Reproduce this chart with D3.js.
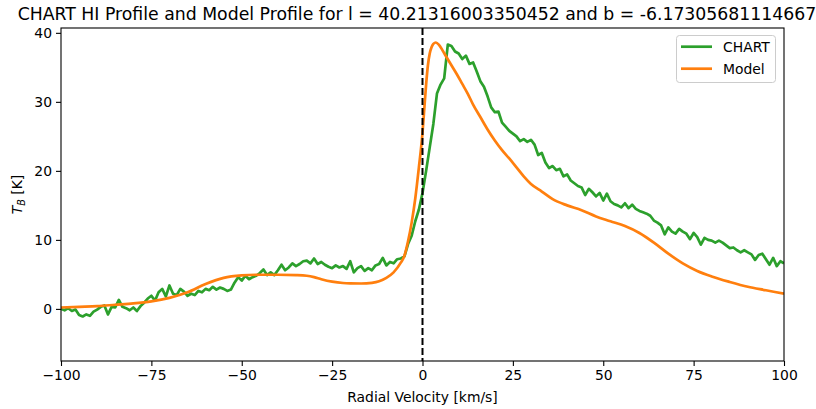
<!DOCTYPE html>
<html>
<head>
<meta charset="utf-8">
<script src="https://cdn.jsdelivr.net/npm/d3@7.9.0/dist/d3.min.js"></script>
<style>
  body { margin: 0; background: #fff; }
  svg { display: block; font-family: "DejaVu Sans", sans-serif; }
</style>
</head>
<body>
<svg id="chart" width="816" height="409"></svg>
<script>
// CHART observed profile, 1 km/s steps from -100 to 100
const chartVel = d3.range(-100, 101, 1);
const chartTb = [
  0.0, -0.2, 0.1, -0.3, -0.1, -0.9, -1.1, -0.8, -1.0, -0.4,
  -0.1, 0.3, 0.5, -0.8, 0.3, 0.2, 1.3, 0.3, 0.1, -0.2,
  0.2, -0.3, 0.4, 0.9, 1.5, 1.9, 1.2, 2.4, 2.9, 1.8,
  3.4, 2.2, 2.0, 2.9, 2.5, 1.9, 2.2, 2.0, 2.6, 2.4,
  2.9, 2.7, 3.2, 2.8, 3.1, 2.9, 2.6, 2.8, 3.8, 4.6,
  4.1, 4.8, 4.3, 4.6, 4.8, 5.2, 5.7, 4.9, 5.3, 4.9,
  5.6, 6.4, 5.6, 6.0, 6.6, 6.2, 6.5, 6.9, 7.0, 6.6,
  7.3, 6.5, 6.8, 6.4, 6.1, 5.9, 6.3, 6.0, 6.2, 5.8,
  6.9, 5.3, 5.9, 6.2, 5.5, 5.9, 5.6, 6.3, 6.5, 7.4,
  6.3, 6.8, 6.6, 7.2, 7.3, 7.6, 9.4, 10.6, 12.7, 14.4,
  16.8, 20.0, 23.4, 26.8, 31.2, 32.5, 33.4, 38.3, 38.1, 37.3,
  37.0, 36.2, 36.7, 35.5, 35.7, 34.4, 33.0, 32.2, 30.8, 29.2,
  28.5, 28.6, 27.0, 26.4, 25.8, 25.4, 25.0, 24.3, 24.6, 24.2,
  24.5, 23.8, 22.3, 22.6, 21.2, 20.4, 20.7, 20.1, 20.3, 19.2,
  19.5, 18.6, 18.2, 17.8, 17.6, 16.5, 17.4, 16.9, 16.3, 16.8,
  15.7, 16.7, 15.6, 15.2, 15.0, 14.7, 15.3, 14.6, 15.1, 14.5,
  14.2, 14.0, 13.8, 13.5, 12.8, 12.5, 12.1, 10.8, 11.8, 11.2,
  10.9, 11.6, 11.2, 10.9, 10.1, 11.0, 10.4, 9.3, 10.3, 10.0,
  9.9, 9.6, 9.9, 9.6, 9.2, 8.8, 8.9, 8.5, 8.2, 8.5,
  8.2, 7.9, 7.1, 7.8, 8.0, 7.2, 6.4, 7.4, 6.2, 6.9,
  6.6
];

// Model profile (smooth)
const modelVel = [-100, -95, -90, -85, -80, -75, -70, -65, -60, -55, -50, -45, -40, -35, -32, -30, -28, -25, -22, -20, -17, -14, -12, -10, -8, -6, -5, -4, -3, -2, -1, 0, 0.5, 1, 1.5, 2, 2.5, 3, 3.7, 4.5, 5.5, 6.5, 8, 9.5, 11, 12.5, 14, 16, 18, 20, 22, 24, 26, 28, 30, 33, 36, 40, 44, 48, 52, 56, 60, 64, 68, 72, 76, 80, 85, 90, 95, 100];
const modelTb = [0.2, 0.3, 0.4, 0.6, 0.8, 1.1, 1.6, 2.4, 3.6, 4.5, 4.85, 4.95, 4.95, 4.9, 4.8, 4.6, 4.3, 3.95, 3.75, 3.7, 3.68, 3.78, 4.0, 4.5, 5.3, 6.7, 7.7, 9.8, 12.5, 16.0, 20.5, 25.5, 29.0, 32.5, 35.3, 37.0, 37.9, 38.4, 38.6, 38.3, 37.5, 36.6, 35.3, 34.0, 32.6, 31.2, 29.6, 27.8, 26.0, 24.4, 23.0, 21.8, 20.5, 19.2, 18.1, 17.0, 15.9, 15.0, 14.3, 13.4, 12.7, 12.0, 11.0, 9.6, 8.0, 6.6, 5.5, 4.7, 3.9, 3.2, 2.7, 2.2];

const xTicks = [-100, -75, -50, -25, 0, 25, 50, 75, 100];
const yTicks = [0, 10, 20, 30, 40];
const seriesNames = ["CHART", "Model"];
const seriesColors = ["#2ca02c", "#ff7f0e"];

const margin = { left: 61, right: 32, top: 28, bottom: 48 };
const width = 816, height = 409;

const svg = d3.select("#chart");

const x = d3.scaleLinear().domain([-100, 100]).range([margin.left, width - margin.right]);
const y = d3.scaleLinear().domain([-7.55, 40.7]).range([height - margin.bottom, margin.top]);

// clip for lines
svg.append("defs").append("clipPath").attr("id", "clip")
  .append("rect")
  .attr("x", margin.left).attr("y", margin.top)
  .attr("width", width - margin.left - margin.right)
  .attr("height", height - margin.top - margin.bottom);

const plot = svg.append("g").attr("clip-path", "url(#clip)");

const chartLine = d3.line().x((d, i) => x(chartVel[i])).y(d => y(d));
plot.append("path")
  .datum(chartTb)
  .attr("d", chartLine)
  .attr("fill", "none")
  .attr("stroke", seriesColors[0])
  .attr("stroke-width", 2.7)
  .attr("stroke-linejoin", "round");

const modelLine = d3.line().curve(d3.curveMonotoneX).x((d, i) => x(modelVel[i])).y(d => y(d));
plot.append("path")
  .datum(modelTb)
  .attr("d", modelLine)
  .attr("fill", "none")
  .attr("stroke", seriesColors[1])
  .attr("stroke-width", 2.7)
  .attr("stroke-linejoin", "round");

// vertical dashed line at 0
svg.append("line")
  .attr("x1", x(0)).attr("x2", x(0))
  .attr("y1", margin.top).attr("y2", height - margin.bottom)
  .attr("stroke", "#000")
  .attr("stroke-width", 2)
  .attr("stroke-dasharray", "7,3");

// axes
const xAxis = d3.axisBottom(x).tickValues(xTicks).tickSize(5).tickPadding(4).tickFormat(d3.format("d"));
const yAxis = d3.axisLeft(y).tickValues(yTicks).tickSize(5).tickPadding(4).tickFormat(d3.format("d"));

const gx = svg.append("g").attr("transform", `translate(0,${height - margin.bottom})`).call(xAxis);
const gy = svg.append("g").attr("transform", `translate(${margin.left},0)`).call(yAxis);
[gx, gy].forEach(g => {
  g.select(".domain").remove();
  g.selectAll("text").attr("font-size", 13.9).attr("font-family", "DejaVu Sans").attr("fill", "#000");
  g.selectAll("line").attr("stroke", "#000").attr("stroke-width", 1.1);
});

// frame
svg.append("rect")
  .attr("x", margin.left).attr("y", margin.top)
  .attr("width", width - margin.left - margin.right)
  .attr("height", height - margin.top - margin.bottom)
  .attr("fill", "none")
  .attr("stroke", "#000")
  .attr("stroke-width", 1.1);

// title (overflows the right edge like the original)
svg.append("text")
  .attr("x", x(0)).attr("y", 20)
  .attr("text-anchor", "middle")
  .attr("font-size", 17.3)
  .attr("fill", "#000")
  .text("CHART HI Profile and Model Profile for l = 40.21316003350452 and b = -6.173056811146672");

// axis labels
svg.append("text")
  .attr("x", x(0)).attr("y", 402)
  .attr("text-anchor", "middle")
  .attr("font-size", 13.9)
  .text("Radial Velocity [km/s]");

const ylab = svg.append("text")
  .attr("transform", `translate(22,${(margin.top + height - margin.bottom) / 2}) rotate(-90)`)
  .attr("text-anchor", "middle")
  .attr("font-size", 13.9);
ylab.append("tspan").attr("font-style", "italic").text("T");
ylab.append("tspan").attr("font-style", "italic").attr("font-size", 9.7).attr("dy", 3).text("B");
ylab.append("tspan").attr("dy", -3).text(" [K]");

// legend
const legend = svg.append("g").attr("transform", "translate(676,35)");
legend.append("rect")
  .attr("x", 0.5).attr("y", 0.5)
  .attr("width", 99).attr("height", 47)
  .attr("rx", 3)
  .attr("fill", "#fff").attr("fill-opacity", 0.8)
  .attr("stroke", "#ccc");
seriesNames.forEach((name, i) => {
  const yy = 11.7 + i * 22;
  legend.append("line")
    .attr("x1", 5).attr("x2", 36)
    .attr("y1", yy).attr("y2", yy)
    .attr("stroke", seriesColors[i]).attr("stroke-width", 2.7);
  legend.append("text")
    .attr("x", 47).attr("y", yy + 5)
    .attr("font-size", 13.9)
    .text(name);
});
</script>
</body>
</html>
